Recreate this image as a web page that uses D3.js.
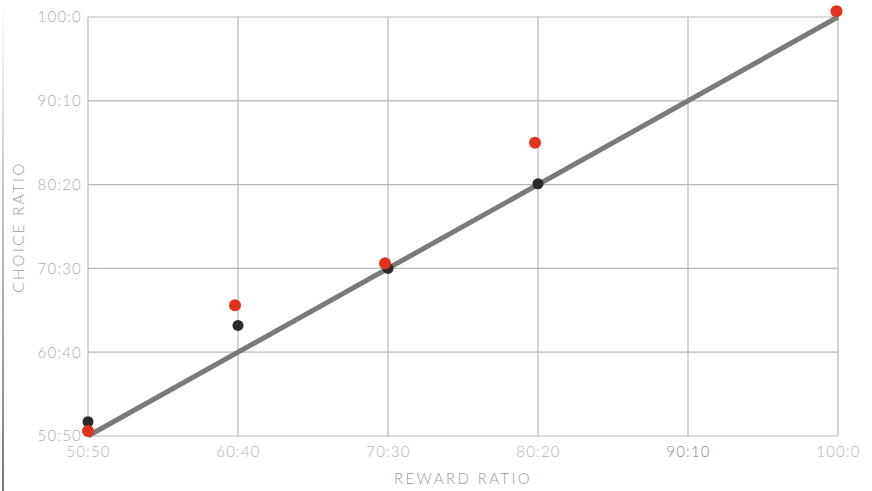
<!DOCTYPE html>
<html>
<head>
<meta charset="utf-8">
<script src="https://cdn.jsdelivr.net/npm/d3@7"></script>
<style>
  html, body { margin: 0; padding: 0; background: #fff; }
  svg { display: block; }
  text { font-family: Lato, "Open Sans", sans-serif; font-weight: 300; }
</style>
</head>
<body>
<script>
// Share of reward on the left alternative (percent) and matching tick labels
const tickValues = [50, 60, 70, 80, 90, 100];
const tickLabels = ["50:50", "60:40", "70:30", "80:20", "90:10", "100:0"];

// Observed choice share for each reward ratio
const redX = [50, 59.8, 69.8, 79.8, 99.9];
const redY = [50.6, 65.6, 70.6, 85.0, 100.7];
const blackX = [50, 60, 70, 80];
const blackY = [51.7, 63.2, 70.0, 80.1];

// Perfect matching line
const matchLine = [[50, 50], [100, 100]];

const W = 872, H = 491;
const margin = { left: 88, right: 34, top: 17, bottom: 55 };

const svg = d3.select("body").append("svg").attr("width", W).attr("height", H);

const x = d3.scaleLinear().domain([50, 100]).range([margin.left, W - margin.right]);
const y = d3.scaleLinear().domain([50, 100]).range([H - margin.bottom, margin.top]);

// faint edge rule on the left
const grad = svg.append("defs").append("linearGradient")
  .attr("id", "edge").attr("x1", 0).attr("y1", 0).attr("x2", 0).attr("y2", 1);
grad.append("stop").attr("offset", "0%").attr("stop-color", "#999").attr("stop-opacity", 0);
grad.append("stop").attr("offset", "35%").attr("stop-color", "#999").attr("stop-opacity", 0.5);
grad.append("stop").attr("offset", "100%").attr("stop-color", "#777").attr("stop-opacity", 1);
svg.append("rect").attr("x", 2).attr("y", 0).attr("width", 2).attr("height", H).attr("fill", "url(#edge)");

// grid
const grid = svg.append("g");
grid.selectAll("line.v").data(tickValues).join("line")
  .attr("x1", d => x(d)).attr("x2", d => x(d))
  .attr("y1", y(100)).attr("y2", y(50))
  .attr("stroke", "#b8b8b8").attr("stroke-width", 1.2);
grid.selectAll("line.h").data(tickValues).join("line")
  .attr("y1", d => y(d)).attr("y2", d => y(d))
  .attr("x1", x(50)).attr("x2", x(100))
  .attr("stroke", "#b8b8b8").attr("stroke-width", 1.2);

// axes (labels only)
const xAxis = d3.axisBottom(x).tickValues(tickValues)
  .tickFormat((d, i) => tickLabels[i]).tickSize(0).tickPadding(10);
const gx = svg.append("g").attr("transform", `translate(0,${y(50)})`).call(xAxis);
gx.select(".domain").remove();
gx.selectAll("text").attr("font-size", 15).attr("fill", (d) => d === 90 ? "#8a8a8a" : "#b4b4b4")
  .attr("letter-spacing", 1.2)
  .style("font-family", "Lato, sans-serif").style("font-weight", 300);

const yAxis = d3.axisLeft(y).tickValues(tickValues)
  .tickFormat((d, i) => tickLabels[i]).tickSize(0).tickPadding(6);
const gy = svg.append("g").attr("transform", `translate(${x(50)},0)`).call(yAxis);
gy.select(".domain").remove();
gy.selectAll("text").attr("font-size", 15).attr("fill", "#adadad")
  .attr("letter-spacing", 1.2)
  .style("font-family", "Lato, sans-serif").style("font-weight", 300);

// axis titles
svg.append("text").attr("x", 463).attr("y", 484)
  .attr("text-anchor", "middle").attr("font-size", 15).attr("fill", "#9a9a9a")
  .attr("letter-spacing", 2.4).text("REWARD RATIO");
svg.append("text")
  .attr("transform", `translate(24,227) rotate(-90)`)
  .attr("text-anchor", "middle").attr("font-size", 15).attr("fill", "#9a9a9a")
  .attr("letter-spacing", 2.4).text("CHOICE RATIO");

// matching line
svg.append("path")
  .attr("d", d3.line().x(d => x(d[0])).y(d => y(d[1]))(matchLine))
  .attr("stroke", "#7a7a7a").attr("stroke-width", 5).attr("fill", "none");

// points
const blackPts = blackX.map((v, i) => [v, blackY[i]]);
const redPts = redX.map((v, i) => [v, redY[i]]);
svg.append("g").selectAll("circle").data(blackPts).join("circle")
  .attr("cx", d => x(d[0])).attr("cy", d => y(d[1])).attr("r", 5.5)
  .attr("fill", "#2b2b2b");
svg.append("g").selectAll("circle").data(redPts).join("circle")
  .attr("cx", d => x(d[0])).attr("cy", d => y(d[1])).attr("r", 6)
  .attr("fill", "#e0321c");
</script>
</body>
</html>
